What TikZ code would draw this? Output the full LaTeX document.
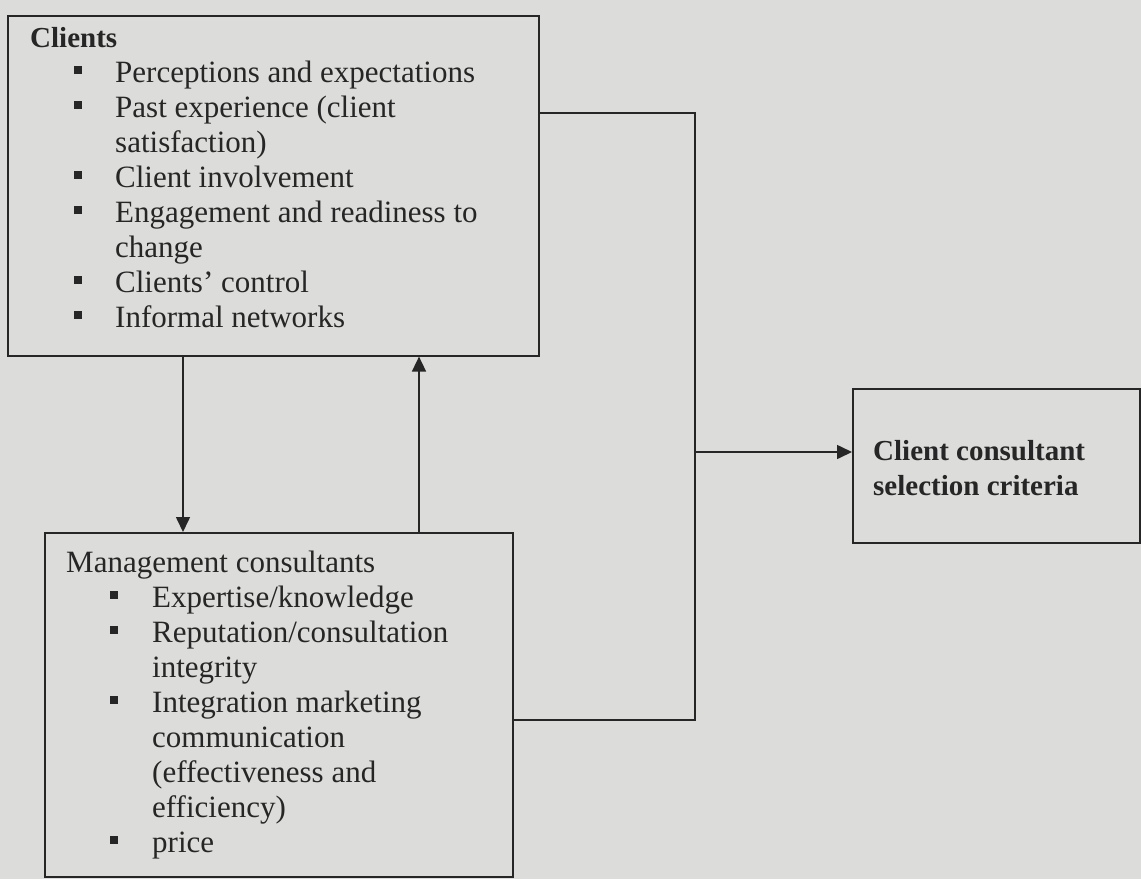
\documentclass[tikz,border=0pt]{standalone}
\usepackage{fontspec}
\setmainfont{Liberation Serif}
\usetikzlibrary{arrows.meta}
\definecolor{bg}{HTML}{DCDCDA}
\definecolor{ink}{HTML}{262626}
\newcommand{\blt}{\raisebox{8pt}{\rule{8pt}{8pt}}}
\begin{document}
\begin{tikzpicture}[x=1pt,y=-1pt,
  box/.style={draw=ink, line width=1.6pt, inner sep=0, anchor=north west},
  conn/.style={draw=ink, line width=1.6pt},
  arr/.style={conn, -{Triangle[length=15pt,width=14pt]}},
  txt/.style={text=ink, inner sep=0, anchor=base west, font=\fontsize{31}{35}\selectfont}]
\fill[bg] (0,0) rectangle (1141,879);
\useasboundingbox (0,0) rectangle (1141,879);
% boxes
\node[box, minimum width=531pt, minimum height=340pt] (clients) at (7,15) {};
\node[box, minimum width=468pt, minimum height=344pt] (mgmt) at (44,532) {};
\node[box, minimum width=287pt, minimum height=154pt] (ccsc) at (852,388) {};
% texts
\node[txt] (clientsTxt) at (30,47) {\begin{tabular}[t]{@{\hspace{44pt}}l@{\hspace{33pt}}l@{}}
\multicolumn{2}{@{}l@{}}{\fontsize{29}{35}\selectfont\textbf{Clients}}\\
\blt & Perceptions and expectations\\
\blt & Past experience (client\\
 & satisfaction)\\
\blt & Client involvement\\
\blt & Engagement and readiness to\\
 & change\\
\blt & Clients’ control\\
\blt & Informal networks
\end{tabular}};
\node[txt] (mgmtTxt) at (66,572) {\begin{tabular}[t]{@{\hspace{44pt}}l@{\hspace{34pt}}l@{}}
\multicolumn{2}{@{}l@{}}{Management consultants}\\
\blt & Expertise/knowledge\\
\blt & Reputation/consultation\\
 & integrity\\
\blt & Integration marketing\\
 & communication\\
 & (effectiveness and\\
 & efficiency)\\
\blt & price
\end{tabular}};
\node[txt, align=left, font=\fontsize{29}{35}\selectfont\bfseries] (ccscTxt) at (873,495) {Client consultant\\selection criteria};
% connectors
\coordinate (brTop) at (695,113);
\coordinate (brBot) at (695,720);
\coordinate (brMid) at (695,452);
\draw[arr] ([xshift=176pt]clients.south west) -- ([xshift=176pt]clients.south west |- mgmt.north);
\draw[arr] ([xshift=412pt]clients.south west |- mgmt.north) -- ([xshift=412pt]clients.south west);
\draw[conn] (clients.east |- brTop) -- (brTop) -- (brBot) -- (mgmt.east |- brBot);
\draw[arr] (brMid) -- (ccsc.west |- brMid);
\end{tikzpicture}
\end{document}
